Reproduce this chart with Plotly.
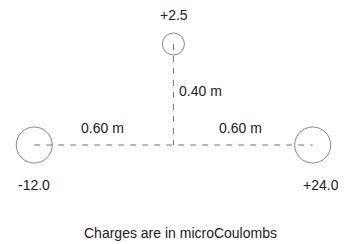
import plotly.graph_objects as go

# Charges (positions in metres, values in microCoulombs)
charge_x = [-0.6, 0.6, 0.0]
charge_y = [0.0, 0.0, 0.4]
charge_labels = ["-12.0", "+24.0", "+2.5"]
charge_sizes = [36, 36, 22]

# Distance labels
dist_labels = ["0.60 m", "0.60 m", "0.40 m"]

font = dict(family="Liberation Sans, Arial, sans-serif", size=14, color="#222")

fig = go.Figure()

# dashed horizontal line between the two base charges
fig.add_trace(go.Scatter(x=[charge_x[0], charge_x[1]], y=[charge_y[0], charge_y[1]],
                         mode="lines", line=dict(color="#777", width=1, dash="6px,6px"),
                         hoverinfo="skip", showlegend=False))
# dashed vertical line from top charge down to the baseline
fig.add_trace(go.Scatter(x=[charge_x[2], charge_x[2]], y=[charge_y[2], 0.0],
                         mode="lines", line=dict(color="#777", width=1, dash="6px,6px"),
                         hoverinfo="skip", showlegend=False))
# charges as open circles
fig.add_trace(go.Scatter(x=charge_x, y=charge_y, mode="markers",
                         marker=dict(symbol="circle-open", size=charge_sizes,
                                     color="#555", line=dict(width=1, color="#555")),
                         hoverinfo="skip", showlegend=False))

ann = []
# charge value labels
ann.append(dict(x=-0.603, y=-0.158, text=charge_labels[0]))
ann.append(dict(x=0.634, y=-0.158, text=charge_labels[1]))
ann.append(dict(x=0.002, y=0.515, text=charge_labels[2]))
# distance labels
ann.append(dict(x=-0.304, y=0.067, text=dist_labels[0]))
ann.append(dict(x=0.291, y=0.067, text=dist_labels[1]))
ann.append(dict(x=0.118, y=0.215, text=dist_labels[2]))
# note
ann.append(dict(x=0.03, y=-0.349, text="Charges are in microCoulombs"))

for a in ann:
    a.update(xref="x", yref="y", showarrow=False, font=font,
             xanchor="center", yanchor="middle")

fig.update_layout(
    width=338, height=236,
    margin=dict(l=0, r=0, t=0, b=0),
    paper_bgcolor="white", plot_bgcolor="white",
    xaxis=dict(range=[-0.713, 0.7435], visible=False, fixedrange=True),
    yaxis=dict(range=[-0.392, 0.5426], visible=False, fixedrange=True),
    annotations=ann,
    showlegend=False,
)

fig.write_html("out.html")
